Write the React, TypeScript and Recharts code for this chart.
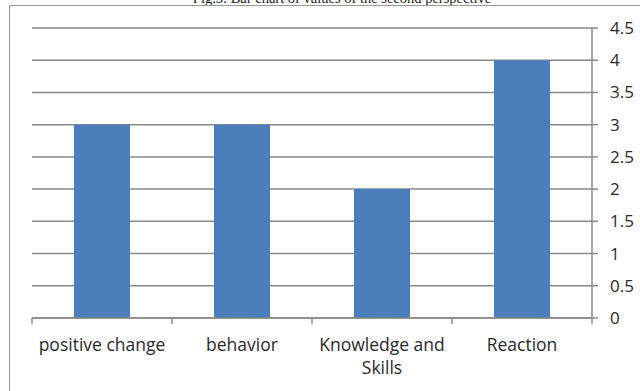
import React from "react";
import { BarChart, Bar, XAxis, YAxis, CartesianGrid, Text } from "recharts";

// values of the second perspective
const categories = ["positive change", "behavior", "Knowledge and Skills", "Reaction"];
const scores = [3, 3, 2, 4];
const yTicks = [0, 0.5, 1, 1.5, 2, 2.5, 3, 3.5, 4, 4.5];

const data = categories.map((name, i) => ({ name, value: scores[i] }));

const AXIS_GREY = "#8a8a8a";
const BAR_BLUE = "#4a7ebb";
const TEXT = "#2a2a2a";
const FONT = "'Open Sans', 'Noto Sans', sans-serif";

// Excel-style category tick: marks sit on the band edges, label wraps under the band
function CategoryTick(props: any) {
  const { x, y, payload, index, visibleTicksCount } = props;
  const half = payload?.offset ?? 70;
  const last = index === (visibleTicksCount ?? categories.length) - 1;
  return (
    <g>
      <line x1={x - half} x2={x - half} y1={y} y2={y + 6} stroke={AXIS_GREY} strokeWidth={1.5} />
      {last && (
        <line x1={x + half} x2={x + half} y1={y} y2={y + 6} stroke={AXIS_GREY} strokeWidth={1.5} />
      )}
      <Text
        x={x}
        y={y + 21}
        width={130}
        textAnchor="middle"
        verticalAnchor="start"
        lineHeight={23}
        fontSize={17.5}
        fontFamily={FONT}
        fill={TEXT}
      >
        {payload.value}
      </Text>
    </g>
  );
}

export default function App() {
  return (
    <div
      style={{
        position: "fixed",
        top: 0,
        left: 0,
        width: 640,
        height: 391,
        overflow: "hidden",
        background: "#fff",
      }}
    >
      {/* caption, clipped by the top of the page */}
      <div
        style={{
          position: "absolute",
          top: -10,
          left: 142,
          width: 400,
          lineHeight: "16px",
          textAlign: "center",
          fontFamily: "'Liberation Serif', 'DejaVu Serif', serif",
          fontSize: 14.5,
          color: "#222",
          whiteSpace: "nowrap",
        }}
      >
        Fig.3: Bar chart of values of the second perspective
      </div>
      {/* chart frame */}
      <div
        style={{
          position: "absolute",
          left: 9,
          top: 5,
          width: 660,
          height: 420,
          borderTop: "1.5px solid #9a9a9a",
          borderLeft: "1.5px solid #9a9a9a",
        }}
      />
      <div style={{ position: "absolute", left: 0, top: 0 }}>
        <BarChart
          width={640}
          height={391}
          data={data}
          margin={{ top: 28, right: 0, bottom: 13, left: 32 }}
          barCategoryGap="30%"
        >
          <CartesianGrid vertical={false} stroke={AXIS_GREY} strokeWidth={1.5} />
          <XAxis
            dataKey="name"
            axisLine={{ stroke: AXIS_GREY, strokeWidth: 1.5 }}
            tickLine={false}
            tickSize={0}
            tickMargin={0}
            height={60}
            interval={0}
            tick={<CategoryTick />}
          />
          <YAxis
            orientation="right"
            domain={[0, 4.5]}
            ticks={yTicks}
            width={48}
            axisLine={{ stroke: AXIS_GREY, strokeWidth: 1.5 }}
            tickLine={{ stroke: AXIS_GREY, strokeWidth: 1.5 }}
            tickSize={6}
            tickMargin={12}
            tick={{ fill: TEXT, fontSize: 17, fontFamily: FONT, textAnchor: "start" }}
          />
          <Bar dataKey="value" fill={BAR_BLUE} isAnimationActive={false} />
        </BarChart>
      </div>
    </div>
  );
}
